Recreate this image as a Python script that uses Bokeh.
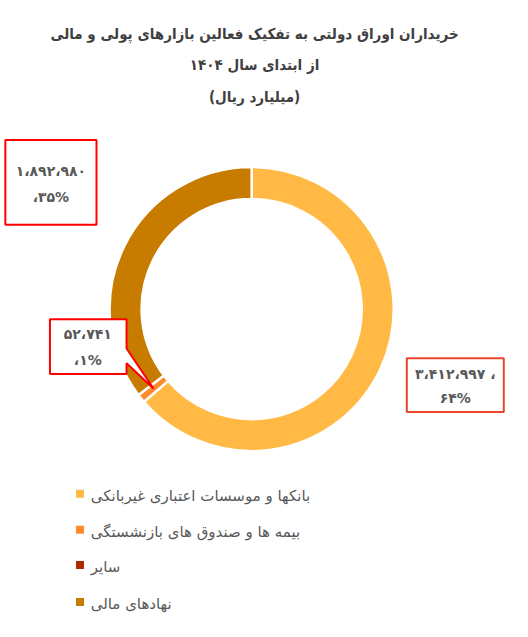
import math
from bokeh.plotting import figure
from bokeh.models import Range1d
from bokeh.embed import file_html
from bokeh.resources import INLINE
from bokeh.core.properties import value

# ---- data ----
categories = ["بانکها و موسسات اعتباری غیربانکی",
              "بیمه ها و صندوق های بازنشستگی",
              "سایر",
              "نهادهای مالی"]
values = [3412997, 52741, 0, 1892980]
colors = ["#FFB944", "#FF8A2C", "#B02800", "#C77C00"]
title_lines = ["خریداران اوراق دولتی به تفکیک فعالین بازارهای پولی و مالی",
               "از ابتدای سال ۱۴۰۴",
               "(میلیارد ریال)"]

W, H = 512, 621          # figure size in pixels
RW, RH = 528, 637        # layout coordinate space
FONT = "DejaVu Sans"
TFONT = "DejaVu Sans Condensed"
GRAY = "#595959"

def sx(X):
    return X

def sy(Y):
    return RH - Y

PERSIAN = str.maketrans("0123456789", "۰۱۲۳۴۵۶۷۸۹")

def fa_num(v):
    return f"{v:,}".replace(",", "،").translate(PERSIAN)

p = figure(width=W, height=H, output_backend="svg", toolbar_location=None,
           x_range=Range1d(0, RW), y_range=Range1d(0, RH), min_border=0)
p.axis.visible = False
p.grid.visible = False
p.outline_line_color = None
p.background_fill_color = "white"

# ---- title ----
for line, Y in zip(title_lines, [34, 66, 99]):
    p.text(x=[sx(262)], y=[sy(Y)], text=[line], text_font=value(TFONT),
           text_font_size="15px", text_font_style="bold", text_color="#404040",
           text_align="center", text_baseline="middle")

# ---- donut ----
cx, cy = sx(259), sy(316.5)
r_out, r_in = 146.5, 113.5
total = sum(values)
cum = 0.0
starts, ends, mids = [], [], []
for v in values:
    f0 = cum / total
    cum += v
    f1 = cum / total
    starts.append(math.pi / 2 - f1 * 2 * math.pi)
    ends.append(math.pi / 2 - f0 * 2 * math.pi)
    mids.append(math.pi / 2 - (f0 + f1) / 2 * 2 * math.pi)

for s, e, c, v in zip(starts, ends, colors, values):
    if v <= 0:
        continue
    p.annular_wedge(x=cx, y=cy, inner_radius=r_in, outer_radius=r_out,
                    start_angle=s, end_angle=e, fill_color=c,
                    line_color="white", line_width=2.5)

# ---- data labels ----
pcts = [round(v / total * 100) for v in values]
label_red = "#FF0000"
LFS = "14px"

def label_text(X, Y, t):
    p.text(x=[sx(X)], y=[sy(Y)], text=[t], text_font=value(FONT),
           text_font_size=LFS, text_font_style="bold", text_color=GRAY,
           text_align="center", text_baseline="middle")

# label for نهادهای مالی (index 3)
bx0, by0, bx1, by1 = 5, 143, 99, 230
p.quad(left=sx(bx0), right=sx(bx1), top=sy(by0), bottom=sy(by1),
       fill_color="white", line_color=label_red, line_width=2)
label_text(52, 175, fa_num(values[3]))
label_text(52, 202, "،" + str(pcts[3]).translate(PERSIAN) + "%")

# label for بیمه (index 1) with callout pointer
r_mid = (r_in + r_out) / 2
tip_x = cx + r_mid * math.cos(mids[1])
tip_y = cy + r_mid * math.sin(mids[1])
bx0, by0, bx1, by1 = 51, 327, 130, 383
px = [sx(bx0), sx(bx1), sx(bx1), tip_x, sx(bx1), sx(bx1), sx(bx0)]
py = [sy(by0), sy(by0), sy(357), tip_y, sy(372), sy(by1), sy(by1)]
p.patch(x=px, y=py, fill_color="white", line_color=label_red, line_width=2)
label_text(90, 342, fa_num(values[1]))
label_text(90, 369, "،" + str(pcts[1]).translate(PERSIAN) + "%")

# label for banks (index 0)
bx0, by0, bx1, by1 = 419, 367, 519, 422
p.quad(left=sx(bx0), right=sx(bx1), top=sy(by0), bottom=sy(by1),
       fill_color="white", line_color="#E8452C", line_width=2)
label_text(469, 383, fa_num(values[0]) + " ،")
label_text(469, 408, str(pcts[0]).translate(PERSIAN) + "%")

# ---- legend ----
leg_y = [506, 543, 579, 617]
p.scatter(x=[sx(82)] * 4, y=[sy(Y) for Y in leg_y], marker="square", size=8,
          fill_color=colors, line_color=None)
p.text(x=[sx(93)] * 4, y=[sy(Y + 2) for Y in leg_y], text=categories,
       text_font=value(FONT), text_font_size="15px", text_color=GRAY,
       text_align="left", text_baseline="middle")

open("out.html", "w").write(file_html(p, INLINE))
